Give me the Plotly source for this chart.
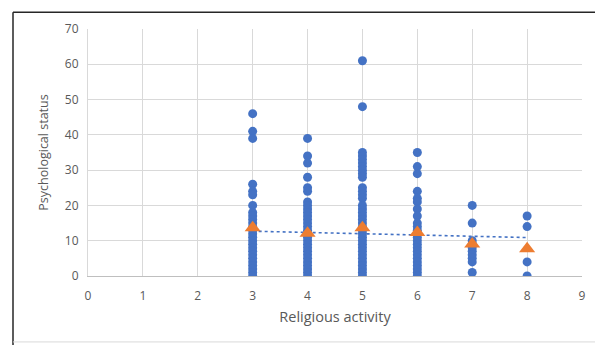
import plotly.graph_objects as go

# Raw scatter data (religious activity -> psychological status)
act3 = [46, 41, 39, 26, 24, 23, 20, 18, 17, 16, 15, 14, 13, 12, 11, 10, 9, 8, 7, 6, 5, 4, 3, 2, 1, 0]
act4 = [39, 34, 32, 28, 25, 24, 21, 20, 19, 18, 17, 16, 15, 14, 13, 12, 11, 10, 9, 8, 7, 6, 5, 4, 3, 2, 1, 0]
act5 = [61, 48, 35, 34, 33, 32, 31, 30, 29, 28, 25, 24, 23, 22, 20, 19, 18, 17, 16, 15, 14, 13, 12, 11,
        10, 9, 8, 7, 6, 5, 4, 3, 2, 1, 0]
act6 = [35, 31, 29, 24, 22, 21, 19, 17, 15, 14, 13, 12, 11, 10, 9, 8, 7, 6, 5, 4, 3, 2, 1, 0]
act7 = [20, 15, 10, 9, 8, 7, 6, 5, 4, 1]
act8 = [17, 14, 4, 0]

groups = {3: act3, 4: act4, 5: act5, 6: act6, 7: act7, 8: act8}

# Group means (orange triangles)
mean_x = [3, 4, 5, 6, 7, 8]
mean_y = [13.7, 12.1, 13.7, 12.3, 9.1, 7.7]

# Trend line end points
trend_x = [3, 8]
trend_y = [12.7, 10.9]

x_ticks = [0, 1, 2, 3, 4, 5, 6, 7, 8, 9]
y_ticks = [0, 10, 20, 30, 40, 50, 60, 70]

scatter_x = []
scatter_y = []
for k, vals in groups.items():
    scatter_x += [k] * len(vals)
    scatter_y += vals

fig = go.Figure()
fig.add_trace(go.Scatter(
    x=scatter_x, y=scatter_y, mode="markers",
    marker=dict(color="#4472C4", size=9, line=dict(width=0)),
    showlegend=False, hoverinfo="x+y"))
fig.add_trace(go.Scatter(
    x=trend_x, y=trend_y, mode="lines",
    line=dict(color="#4472C4", width=1.6, dash="dot"),
    showlegend=False, hoverinfo="skip"))
fig.add_trace(go.Scatter(
    x=mean_x, y=mean_y, mode="markers",
    marker=dict(color="#ED7D31", size=14, symbol="triangle-up", line=dict(width=0)),
    showlegend=False))

font_color = "#595959"
fam = "Open Sans, Liberation Sans, sans-serif"

# page body has an 8px margin; figure coordinates are offset accordingly
W, H = 595, 337
L, R, T, B = 80, 21, 17, 69
pw, ph = W - L - R, H - T - B


def px(xp):
    return (xp - 8 - L) / pw


def py(yp):
    return (H - B - (yp - 8)) / ph


fig.update_layout(
    width=W, height=H,
    margin=dict(l=L, r=R, t=T, b=B),
    paper_bgcolor="white", plot_bgcolor="white",
    font=dict(family=fam, color=font_color, size=12),
    xaxis=dict(
        range=[0, 9], tickvals=x_ticks, showgrid=True, gridcolor="#D9D9D9", gridwidth=1,
        zeroline=False, showline=True, linecolor="#BFBFBF", linewidth=1, mirror=False,
        ticks="", tickfont=dict(size=12, color=font_color), ticklabelstandoff=9,
        title=dict(text="Religious activity", font=dict(size=14.5, color=font_color), standoff=8),
    ),
    yaxis=dict(
        range=[0, 70], tickvals=y_ticks, showgrid=True, gridcolor="#D9D9D9", gridwidth=1,
        zeroline=False, showline=True, linecolor="#D9D9D9", linewidth=1,
        ticks="", tickfont=dict(size=12, color=font_color), ticklabelstandoff=6,
        title=dict(text="Psychological status", font=dict(size=12.5, color=font_color), standoff=13),
    ),
    shapes=[
        dict(type="line", xref="paper", yref="paper", x0=px(13), x1=px(620),
             y0=py(8), y1=py(8), line=dict(color="#262626", width=1.5)),
        dict(type="line", xref="paper", yref="paper", x0=px(13), x1=px(13),
             y0=py(8), y1=py(350), line=dict(color="#262626", width=1.5)),
        dict(type="line", xref="paper", yref="paper", x0=px(13), x1=px(620),
             y0=py(343), y1=py(343), line=dict(color="#D9D9D9", width=1)),
    ],
)

fig.write_html("out.html")
